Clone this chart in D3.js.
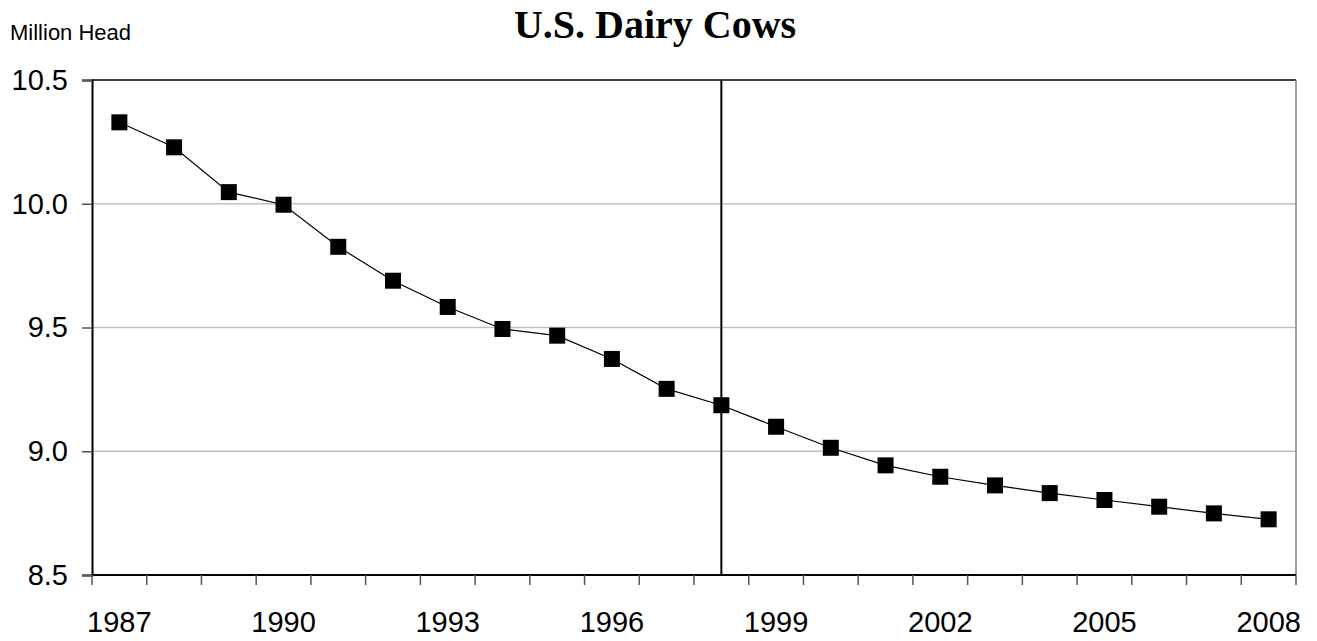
<!DOCTYPE html>
<html>
<head>
<meta charset="utf-8">
<script src="https://cdn.jsdelivr.net/npm/d3@7"></script>
<style>
  body { margin: 0; background: #fff; }
  svg { display: block; }
</style>
</head>
<body>
<div id="svg-container"></div>
<script>
// data
const years = [1987, 1988, 1989, 1990, 1991, 1992, 1993, 1994, 1995, 1996, 1997,
  1998, 1999, 2000, 2001, 2002, 2003, 2004, 2005, 2006, 2007, 2008];
const cows = [10.329, 10.228, 10.047, 9.996, 9.826, 9.689, 9.583, 9.494, 9.467, 9.373, 9.252,
  9.186, 9.099, 9.014, 8.943, 8.897, 8.862, 8.831, 8.803, 8.776, 8.749, 8.725];
const yTicks = [8.5, 9.0, 9.5, 10.0, 10.5];
const xLabels = [1987, 1990, 1993, 1996, 1999, 2002, 2005, 2008];
const markerYear = 1998;

const width = 1317, height = 641;
const margin = { top: 80, right: 21, bottom: 66, left: 92 };

const svg = d3.select("#svg-container").append("svg")
  .attr("width", width).attr("height", height);

// scales
const xScale = d3.scaleBand().domain(years).range([margin.left, width - margin.right]);
const yScale = d3.scaleLinear().domain([8.5, 10.5]).range([height - margin.bottom, margin.top]);
const cx = (d) => xScale(d) + xScale.bandwidth() / 2;

// gridlines
svg.append("g")
  .selectAll("line")
  .data(yTicks.filter((t) => t > 8.5 && t < 10.5))
  .join("line")
  .attr("x1", margin.left).attr("x2", width - margin.right)
  .attr("y1", (d) => yScale(d)).attr("y2", (d) => yScale(d))
  .attr("stroke", "#c0c0c0").attr("stroke-width", 1.5);

// top + right border
svg.append("line")
  .attr("x1", margin.left).attr("x2", width - margin.right)
  .attr("y1", margin.top).attr("y2", margin.top)
  .attr("stroke", "#000").attr("stroke-width", 1.5);
svg.append("line")
  .attr("x1", width - margin.right).attr("x2", width - margin.right)
  .attr("y1", margin.top).attr("y2", height - margin.bottom)
  .attr("stroke", "#808080").attr("stroke-width", 1.5);

// y axis
const yAxis = d3.axisLeft(yScale).tickValues(yTicks).tickFormat(d3.format(".1f"))
  .tickSizeOuter(0).tickSize(10).tickPadding(14);
const gy = svg.append("g").attr("transform", `translate(${margin.left},0)`).call(yAxis);
gy.select(".domain").attr("stroke-width", 2);
gy.selectAll(".tick line").attr("stroke", "#555").attr("stroke-width", 1.5);
gy.selectAll("text")
  .style("font-family", "Arial, 'Liberation Sans', sans-serif")
  .style("font-size", "29px").attr("fill", "#000");

// x axis: ticks on category boundaries
const boundaries = years.map((d) => xScale(d)).concat([width - margin.right]);
const gx = svg.append("g");
gx.append("line")
  .attr("x1", margin.left).attr("x2", width - margin.right)
  .attr("y1", height - margin.bottom).attr("y2", height - margin.bottom)
  .attr("stroke", "#000").attr("stroke-width", 2);
gx.selectAll(".xtick")
  .data(boundaries)
  .join("line")
  .attr("class", "xtick")
  .attr("x1", (d) => d).attr("x2", (d) => d)
  .attr("y1", height - margin.bottom).attr("y2", height - margin.bottom + 10)
  .attr("stroke", "#555").attr("stroke-width", 1.5);
gx.selectAll(".xlabel")
  .data(xLabels)
  .join("text")
  .attr("class", "xlabel")
  .attr("x", (d) => cx(d))
  .attr("y", height - margin.bottom + 57)
  .attr("text-anchor", "middle")
  .style("font-family", "Arial, 'Liberation Sans', sans-serif")
  .style("font-size", "29px")
  .text((d) => d);

// vertical reference line at 1998
svg.append("line")
  .attr("x1", cx(markerYear)).attr("x2", cx(markerYear))
  .attr("y1", margin.top).attr("y2", height - margin.bottom)
  .attr("stroke", "#000").attr("stroke-width", 2);

// line
const data = years.map((y, i) => ({ year: y, value: cows[i] }));
const line = d3.line().x((d) => cx(d.year)).y((d) => yScale(d.value));
svg.append("path")
  .datum(data)
  .attr("d", line)
  .attr("fill", "none")
  .attr("stroke", "#000")
  .attr("stroke-width", 1.2);

// markers
const ms = 16;
svg.append("g")
  .selectAll("rect")
  .data(data)
  .join("rect")
  .attr("x", (d) => cx(d.year) - ms / 2)
  .attr("y", (d) => yScale(d.value) - ms / 2)
  .attr("width", ms).attr("height", ms)
  .attr("fill", "#000");

// title + unit
svg.append("text")
  .attr("x", 655).attr("y", 38)
  .attr("text-anchor", "middle")
  .style("font-family", "'Times New Roman', 'Liberation Serif', serif")
  .style("font-weight", "bold")
  .style("font-size", "40px")
  .text("U.S. Dairy Cows");

svg.append("text")
  .attr("x", 10).attr("y", 40)
  .style("font-family", "Arial, 'Liberation Sans', sans-serif")
  .style("font-size", "22px")
  .text("Million Head");
</script>
</body>
</html>
